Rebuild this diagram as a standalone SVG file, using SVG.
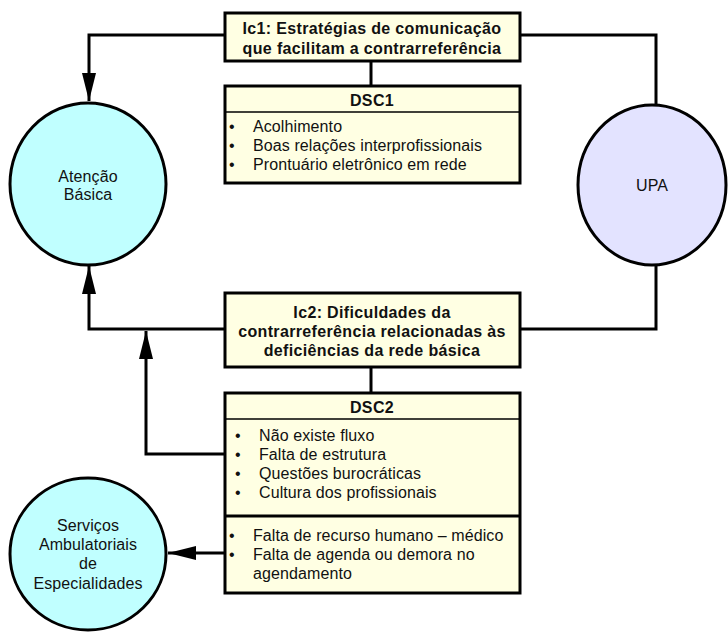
<svg xmlns="http://www.w3.org/2000/svg" width="728" height="632" viewBox="0 0 728 632">
<defs>
<marker id="arr" viewBox="0 0 28 14" refX="28" refY="7" markerWidth="28" markerHeight="14" markerUnits="userSpaceOnUse" orient="auto">
<path d="M0,0 L28,7 L0,14 Z" fill="#000"/>
</marker>
<style>
.box{fill:#FFFFE3;stroke:#000;stroke-width:3}
.sep{stroke:#000;stroke-width:3}
.septhin{stroke:#000;stroke-width:1.5}
.con{fill:none;stroke:#000;stroke-width:3}
.t{font-family:"Liberation Sans",Arial,sans-serif;font-size:16px;letter-spacing:0.1px;fill:#111}
.b{font-family:"Liberation Sans",Arial,sans-serif;font-size:16px;letter-spacing:0.35px;font-weight:bold;fill:#111}
.c{text-anchor:middle}
</style>
</defs>
<rect width="728" height="632" fill="#fff"/>
<g id="connectors">
<path class="con" d="M225,35 H89 V101" marker-end="url(#arr)"/>
<path class="con" d="M520,35 H656 V105"/>
<path class="con" d="M656,265 V329 H520"/>
<path class="con" d="M225,329 H89 V266" marker-end="url(#arr)"/>
<path class="con" d="M225,454 H146 V331" marker-end="url(#arr)"/>
<path class="con" d="M225,553 H168" marker-end="url(#arr)"/>
<path class="con" d="M371,61 V86"/>
<path class="con" d="M371,367 V393"/>
</g>
<g id="atencao">
<ellipse cx="88" cy="184" rx="78" ry="81" fill="#C0FFFF" stroke="#000" stroke-width="3"/>
<text class="t c" x="88" y="182">Atenção</text>
<text class="t c" x="88" y="200">Básica</text>
</g>
<g id="upa">
<ellipse cx="652" cy="185" rx="74" ry="80" fill="#E3E3FF" stroke="#000" stroke-width="3"/>
<text class="t c" x="652" y="191">UPA</text>
</g>
<g id="servicos">
<ellipse cx="88" cy="554" rx="78" ry="76" fill="#C0FFFF" stroke="#000" stroke-width="3"/>
<text class="t c" x="88" y="531">Serviços</text>
<text class="t c" x="88" y="550">Ambulatoriais</text>
<text class="t c" x="88" y="569">de</text>
<text class="t c" x="88" y="589">Especialidades</text>
</g>
<g id="ic1">
<rect class="box" x="225" y="13" width="295" height="48"/>
<text class="b c" x="372" y="34">Ic1: Estratégias de comunicação</text>
<text class="b c" x="372" y="54">que facilitam a contrarreferência</text>
</g>
<g id="dsc1">
<rect class="box" x="225" y="86" width="295" height="97"/>
<line class="septhin" x1="225" y1="112" x2="520" y2="112"/>
<text class="b c" x="372" y="106">DSC1</text>
<text class="t" x="229" y="132">•</text><text class="t" x="253" y="132">Acolhimento</text>
<text class="t" x="229" y="151">•</text><text class="t" x="253" y="151">Boas relações interprofissionais</text>
<text class="t" x="229" y="170">•</text><text class="t" x="253" y="170">Prontuário eletrônico em rede</text>
</g>
<g id="ic2">
<rect class="box" x="225" y="293" width="295" height="74"/>
<text class="b c" x="372" y="318">Ic2: Dificuldades da</text>
<text class="b c" x="372" y="337">contrarreferência relacionadas às</text>
<text class="b c" x="372" y="356">deficiências da rede básica</text>
</g>
<g id="dsc2">
<rect class="box" x="225" y="393" width="295" height="200"/>
<line class="septhin" x1="225" y1="419" x2="520" y2="419"/>
<line class="sep" x1="225" y1="516" x2="520" y2="516"/>
<text class="b c" x="372" y="413">DSC2</text>
<text class="t" x="235" y="441">•</text><text class="t" x="259" y="441">Não existe fluxo</text>
<text class="t" x="235" y="460">•</text><text class="t" x="259" y="460">Falta de estrutura</text>
<text class="t" x="235" y="479">•</text><text class="t" x="259" y="479">Questões burocráticas</text>
<text class="t" x="235" y="498">•</text><text class="t" x="259" y="498">Cultura dos profissionais</text>
<text class="t" x="229" y="541">•</text><text class="t" x="253" y="541">Falta de recurso humano – médico</text>
<text class="t" x="229" y="560">•</text><text class="t" x="253" y="560">Falta de agenda ou demora no</text>
<text class="t" x="253" y="579">agendamento</text>
</g>
</svg>
